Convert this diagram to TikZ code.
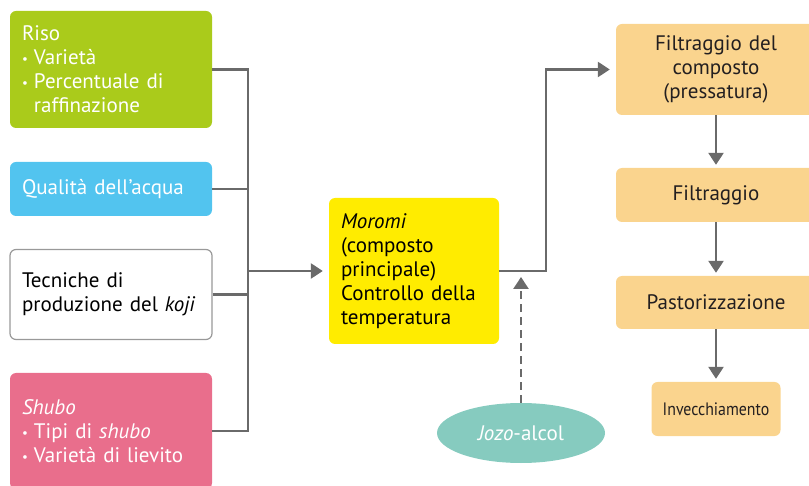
\documentclass[tikz,border=0pt]{standalone}
\usepackage{fontspec}
\setmainfont{PT Sans}
\usetikzlibrary{arrows.meta,shapes.geometric}
\definecolor{risogreen}{HTML}{AACB1B}
\definecolor{waterblue}{HTML}{52C4EF}
\definecolor{shubopink}{HTML}{E96E8C}
\definecolor{moromiyellow}{HTML}{FFEC00}
\definecolor{steporange}{HTML}{FAD48E}
\definecolor{alcoteal}{HTML}{86CBBF}
\definecolor{linegray}{HTML}{6A6A6A}
\definecolor{textdark}{HTML}{231F20}
\newcommand{\dotitem}{\makebox[12pt][l]{\raisebox{1pt}{\fontsize{13}{13}\selectfont\textbullet}}}

\begin{document}
\begin{tikzpicture}
  [x=1pt,y=-1pt,
   box/.style={rectangle,rounded corners=6pt,inner ysep=0pt,inner xsep=12pt,
     font=\fontsize{21}{24}\selectfont},
   leftbox/.style={box,minimum width=202pt,text width=178pt,align=left},
   stepbox/.style={box,fill=steporange,text=textdark,minimum width=200pt,
     text width=176pt,align=center},
   link/.style={draw=linegray,line width=2.6pt},
   arrow/.style={link,-{Triangle[length=12pt,width=15pt]},shorten >=6pt}]
  \clip (0,0) rectangle (809,486);

  % inputs
  \node[leftbox,fill=risogreen,text=white,minimum height=117pt] (riso) at (111,69.5)
    {Riso\\\dotitem Varietà\\\dotitem Percentuale di\\\rule{12pt}{0pt}raffinazione};
  \node[leftbox,fill=waterblue,text=white,minimum height=54pt] (acqua) at (111,189)
    {Qualità dell’acqua};
  \node[leftbox,draw=black!40,line width=1.2pt,fill=white,text=black,minimum height=90pt] (koji) at (111,294.5)
    {Tecniche di\\produzione del \textit{koji}};
  \node[leftbox,fill=shubopink,text=white,minimum height=116pt] (shubo) at (111,431)
    {\textit{Shubo}\\\dotitem Tipi di \textit{shubo}\\\dotitem Varietà di lievito};

  % main mash
  \node[box,fill=moromiyellow,text=black,minimum width=170pt,text width=146pt,
    minimum height=146pt,align=left] (moromi) at (414,271)
    {\textit{Moromi}\\(composto\\principale)\\Controllo della\\temperatura};
  \node[ellipse,fill=alcoteal,text=white,minimum width=168pt,minimum height=60pt,
    inner sep=0pt,font=\fontsize{21}{24}\selectfont] (jozo) at (521,433)
    {\textit{Jozo}-alcol};

  % after pressing
  \node[stepbox,minimum height=91pt] (press) at (716,69.5)
    {Filtraggio del\\composto\\(pressatura)};
  \node[stepbox,minimum height=54pt] (filtro) at (716,195) {Filtraggio};
  \node[stepbox,minimum height=53pt] (pasto) at (716,302.5) {Pastorizzazione};
  \node[box,fill=steporange,text=textdark,minimum width=129pt,minimum height=54pt,
    inner xsep=4pt,font=\fontsize{18}{20}\selectfont] (invec) at (716,409)
    {\scalebox{0.88}[1]{Invecchiamento}};

  \coordinate (join) at (248,271);
  \coordinate (bend) at (546,271);
  \coordinate (alctip) at (521,277);

  \foreach \from in {riso,acqua,koji,shubo}
    \draw[link] (\from.east) -| (join);
  \draw[arrow] (join) -- (moromi.west);
  \draw[arrow] (moromi.east) -- (bend) |- (press.west);
  \draw[link,dash pattern=on 8pt off 5pt,-{Triangle[length=12pt,width=15pt]}]
    (jozo.north) -- (alctip);

  \foreach \from/\to in {press/filtro,filtro/pasto,pasto/invec}
    \draw[arrow,shorten >=3pt] (\from.south) -- (\to.north);
\end{tikzpicture}
\end{document}
